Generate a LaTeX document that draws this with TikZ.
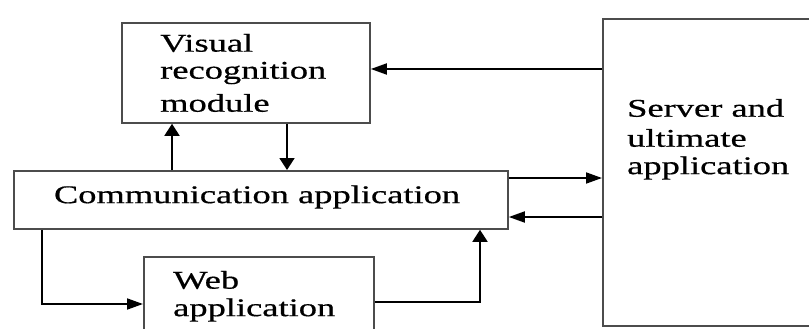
\documentclass[tikz,border=0pt]{standalone}
\usepackage{fontspec}
\newfontfamily\lblfont{Liberation Serif}[FakeBold=0.5]
\usetikzlibrary{arrows.meta}
\newcommand{\wide}[1]{\scalebox{1.43}[1]{#1}}
\begin{document}
\begin{tikzpicture}[x=1pt,y=-1pt,
  box/.style={draw=black!70,line width=1.8pt,fill=white,inner sep=0pt,anchor=north west},
  lbl/.style={inner sep=0pt,font=\lblfont\fontsize{25.5}{30}\selectfont},
  harr/.style={draw=black,line width=1.8pt,-{Triangle[length=16pt,width=11pt]}},
  varr/.style={draw=black,line width=1.8pt,-{Triangle[length=12pt,width=15pt]}}]
\clip (0,0) rectangle (809,329);
\fill[white] (0,0) rectangle (809,329);
% boxes
\node[box,minimum width=248pt,minimum height=100pt] (vrm) at (121,22) {};
\node[box,minimum width=494pt,minimum height=58pt] (comm) at (13,170) {};
\node[box,minimum width=230pt,minimum height=100pt] (web) at (143,256) {};
\node[box,minimum width=240pt,minimum height=307pt] (srv) at (602,18) {};
% labels
\node[lbl,anchor=west] (t1) at (160,43) {\wide{Visual}};
\node[lbl,anchor=west] (t2) at (160,73) {\wide{recognition}};
\node[lbl,anchor=west] (t3) at (160,103) {\wide{module}};
\node[lbl] (t4) at (257,197) {\wide{Communication application}};
\node[lbl,anchor=west] (t5) at (173,280) {\wide{Web}};
\node[lbl,anchor=west] (t6) at (173,310) {\wide{application}};
\node[lbl,anchor=west] (t7) at (627,108) {\wide{Server and}};
\node[lbl,anchor=west] (t8) at (627,138) {\wide{ultimate}};
\node[lbl,anchor=west] (t9) at (627,168) {\wide{application}};
% connectors
\draw[harr] (srv.west |- 0,69) -- (vrm.east |- 0,69);
\draw[varr] (vrm.south -| 287,0) -- (comm.north -| 287,0);
\draw[varr] (comm.north -| 172,0) -- (vrm.south -| 172,0);
\draw[harr] (comm.east |- 0,178) -- (srv.west |- 0,178);
\draw[harr] (srv.west |- 0,217) -- (comm.east |- 0,217);
\coordinate (c1) at (42,304);
\coordinate (c2) at (480,302);
\draw[harr] (comm.south -| c1) -- (c1) -- (web.west |- c1);
\draw[varr] (web.east |- c2) -- (c2) -- (comm.south -| c2);
\end{tikzpicture}
\end{document}
